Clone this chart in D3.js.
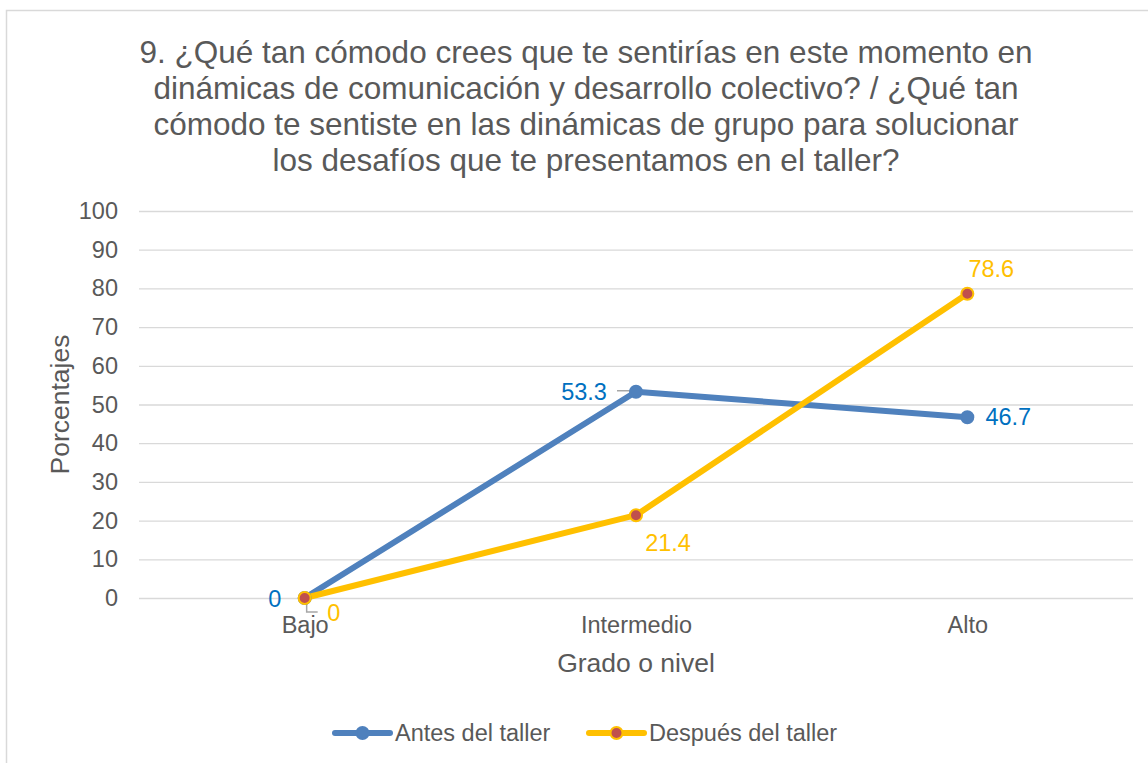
<!DOCTYPE html>
<html>
<head>
<meta charset="utf-8">
<script src="https://cdn.jsdelivr.net/npm/d3@7"></script>
<style>
  body { margin: 0; background: #fff; }
  svg text { font-family: "Liberation Sans", Arial, sans-serif; }
</style>
</head>
<body>
<div id="chart"></div>
<script>
const categories = ["Bajo", "Intermedio", "Alto"];
const antes = [0, 53.3, 46.7];
const despues = [0, 21.4, 78.6];
const yTicks = [0, 10, 20, 30, 40, 50, 60, 70, 80, 90, 100];
const titleLines = [
  "9. ¿Qué tan cómodo crees que te sentirías en este momento en",
  "dinámicas de comunicación y desarrollo colectivo? / ¿Qué tan",
  "cómodo te sentiste en las dinámicas de grupo para solucionar",
  "los desafíos que te presentamos en el taller?"
];

const W = 1148, H = 763;
const margin = { top: 211, right: 15, bottom: 165, left: 139 };

const svg = d3.select("#chart").append("svg")
  .attr("width", W)
  .attr("height", H);

// marco del gráfico
svg.append("rect")
  .attr("x", 6.5).attr("y", 10.5)
  .attr("width", 1160).attr("height", 800)
  .attr("fill", "#fff")
  .attr("stroke", "#d9d9d9")
  .attr("stroke-width", 1.5);

const x = d3.scalePoint()
  .domain(categories)
  .range([margin.left, W - margin.right])
  .padding(0.5);

const y = d3.scaleLinear()
  .domain([0, 100])
  .range([H - margin.bottom, margin.top]);

// título
svg.append("g").selectAll("text")
  .data(titleLines)
  .join("text")
  .attr("x", 586)
  .attr("y", (d, i) => 63 + i * 36)
  .attr("text-anchor", "middle")
  .attr("fill", "#595959")
  .style("font-size", "31.5px")
  .text(d => d);

// rejilla y eje y
const yAxis = d3.axisLeft(y)
  .tickValues(yTicks)
  .tickSize(-(W - margin.right - margin.left))
  .tickPadding(21);

svg.append("g")
  .attr("transform", `translate(${margin.left},0)`)
  .call(yAxis)
  .call(g => {
    g.select(".domain").remove();
    g.selectAll(".tick line").attr("stroke", "#d9d9d9").attr("stroke-width", 1.3);
    g.selectAll(".tick text")
      .attr("fill", "#595959")
      .style("font-size", "23.5px")
      .style("font-family", "Liberation Sans, Arial, sans-serif");
  });

// eje x
const xAxis = d3.axisBottom(x).tickSize(0).tickPadding(18);
svg.append("g")
  .attr("transform", `translate(0,${y(0)})`)
  .call(xAxis)
  .call(g => {
    g.select(".domain").remove();
    g.selectAll(".tick text")
      .attr("fill", "#595959")
      .style("font-size", "23.5px")
      .style("font-family", "Liberation Sans, Arial, sans-serif");
  });

// títulos de ejes
svg.append("text")
  .attr("transform", `translate(69,${(y(0) + y(100)) / 2}) rotate(-90)`)
  .attr("text-anchor", "middle")
  .attr("fill", "#595959")
  .style("font-size", "26.5px")
  .text("Porcentajes");

svg.append("text")
  .attr("x", x("Intermedio"))
  .attr("y", 672)
  .attr("text-anchor", "middle")
  .attr("fill", "#595959")
  .style("font-size", "26.5px")
  .text("Grado o nivel");

const series = [
  { name: "Antes del taller", values: antes, line: "#4f81bd", fill: "#4f81bd", stroke: "#4f81bd", label: "#0070c0" },
  { name: "Después del taller", values: despues, line: "#ffc000", fill: "#c0504d", stroke: "#ffc000", label: "#ffc000" }
];

const line = d3.line()
  .x((d, i) => x(categories[i]))
  .y(d => y(d));

// líneas guía de etiquetas
const leaders = svg.append("g")
  .attr("fill", "none")
  .attr("stroke", "#a6a6a6")
  .attr("stroke-width", 1.5);
leaders.append("path")
  .attr("d", `M${x("Bajo") + 2},${y(0) + 4} L${x("Bajo") + 2},${y(0) + 14} L${x("Bajo") + 13},${y(0) + 14}`);
leaders.append("path")
  .attr("d", `M${x("Intermedio") - 19},${y(53.3) - 1} L${x("Intermedio") - 2},${y(53.3) - 1}`);

series.forEach(s => {
  svg.append("path")
    .datum(s.values)
    .attr("fill", "none")
    .attr("stroke", s.line)
    .attr("stroke-width", 6)
    .attr("stroke-linejoin", "round")
    .attr("stroke-linecap", "round")
    .attr("d", line);
});

series.forEach(s => {
  svg.append("g").selectAll("circle")
    .data(s.values)
    .join("circle")
    .attr("cx", (d, i) => x(categories[i]))
    .attr("cy", d => y(d))
    .attr("r", 6)
    .attr("fill", s.fill)
    .attr("stroke", s.stroke)
    .attr("stroke-width", 2);
});

// etiquetas de datos
const labelOffsets = [
  [{ dx: -30, dy: 1 }, { dx: -52, dy: 0 }, { dx: 41, dy: 0 }],
  [{ dx: 29, dy: 15 }, { dx: 32, dy: 28 }, { dx: 24, dy: -25 }]
];

series.forEach((s, si) => {
  svg.append("g").selectAll("text")
    .data(s.values)
    .join("text")
    .attr("x", (d, i) => x(categories[i]) + labelOffsets[si][i].dx)
    .attr("y", (d, i) => y(d) + labelOffsets[si][i].dy)
    .attr("text-anchor", "middle")
    .attr("dominant-baseline", "central")
    .attr("fill", s.label)
    .style("font-size", "23.5px")
    .text(d => d);
});

// leyenda
const legendX = [335, 589];
series.forEach((s, i) => {
  const g = svg.append("g").attr("transform", `translate(${legendX[i]},733)`);
  g.append("line")
    .attr("x1", 0).attr("x2", 55)
    .attr("stroke", s.line)
    .attr("stroke-width", 6)
    .attr("stroke-linecap", "round");
  g.append("circle")
    .attr("cx", 27.5).attr("r", 6)
    .attr("fill", s.fill)
    .attr("stroke", s.stroke)
    .attr("stroke-width", 2);
  g.append("text")
    .attr("x", 60)
    .attr("dominant-baseline", "central")
    .attr("fill", "#595959")
    .style("font-size", "23.5px")
    .text(s.name);
});
</script>
</body>
</html>
